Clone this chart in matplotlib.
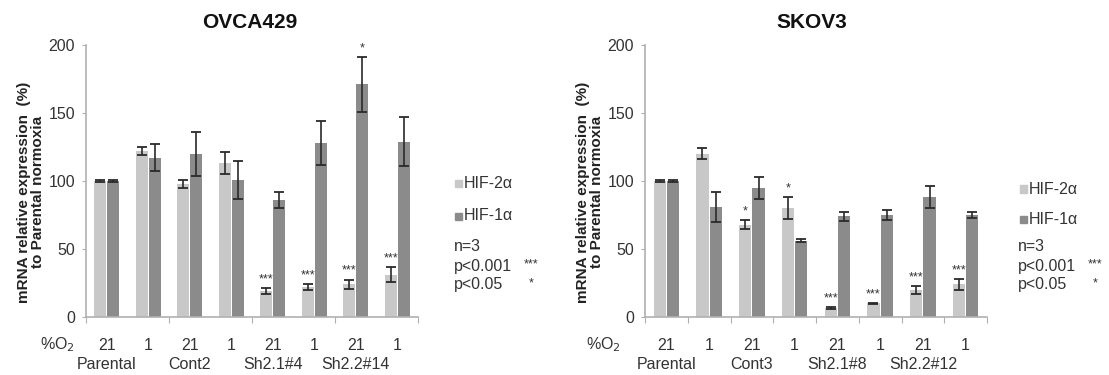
import matplotlib
matplotlib.use("Agg")
import matplotlib.pyplot as plt
import numpy as np

plt.rcParams['font.family'] = ['Liberation Sans', 'DejaVu Sans']

# ---- data ----
o2_labels = ["21", "1", "21", "1", "21", "1", "21", "1"]
series_names = ["HIF-2α", "HIF-1α"]

ovca_groups = ["Parental", "Cont2", "Sh2.1#4", "Sh2.2#14"]
ovca_hif2 = [100, 122, 98, 113, 19, 22, 24, 31]
ovca_hif2_err = [0.5, 3, 3, 8, 2, 2, 3.5, 5.5]
ovca_hif1 = [100, 117, 120, 101, 86, 128, 171, 129]
ovca_hif1_err = [0.5, 10, 16, 14, 6, 16, 20, 18]
ovca_hif2_sig = ["", "", "", "", "***", "***", "***", "***"]
ovca_hif1_sig = ["", "", "", "", "", "", "*", ""]

skov_groups = ["Parental", "Cont3", "Sh2.1#8", "Sh2.2#12"]
skov_hif2 = [100, 120, 68, 80, 6.5, 10, 20, 24]
skov_hif2_err = [0.5, 4, 3, 8, 0.5, 0.5, 3, 4]
skov_hif1 = [100, 81, 95, 56, 74, 75, 88, 75]
skov_hif1_err = [0.5, 11, 8, 1, 3.5, 4, 8, 2]
skov_hif2_sig = ["", "", "*", "*", "***", "***", "***", "***"]
skov_hif1_sig = ["", "", "", "", "", "", "", ""]

# ---- style ----
W, H = 1109, 375
LIGHT = "#c8c8c8"
DARK = "#8b8b8b"
ERR = "#2a2a2a"
AXC = "#b0b0b0"
TXT = "#333333"
FS = 11.5

fig = plt.figure(figsize=(W / 100, H / 100), dpi=100)


def fx(px):
    return px / W


def fy(py):
    return 1 - py / H


def panel(left_px, right_px, title, title_x, groups, h2, e2, h1, e1, s2, s1,
          every_tick, ylab_x, o2_x, leg_x, leg_y, note_x, star_x):
    top_px, bot_px = 45, 317
    ax = fig.add_axes([fx(left_px), fy(bot_px), fx(right_px - left_px),
                       (bot_px - top_px) / H])
    n = len(h2)
    x = np.arange(n) + 0.5
    bw = 0.29
    off = 0.155
    ekw = dict(ecolor=ERR, elinewidth=1.2, capsize=3.4, capthick=1.3)
    ax.bar(x - off, h2, bw, color=LIGHT, yerr=e2, error_kw=ekw, label=series_names[0], zorder=2)
    ax.bar(x + off, h1, bw, color=DARK, yerr=e1, error_kw=ekw, label=series_names[1], zorder=2)
    for i in range(n):
        if s2[i]:
            ax.text(x[i] - off, h2[i] + e2[i] + 2, s2[i], ha="center", va="bottom",
                    fontsize=9, color=TXT)
        if s1[i]:
            ax.text(x[i] + off, h1[i] + e1[i] + 2, s1[i], ha="center", va="bottom",
                    fontsize=9, color=TXT)
    ax.set_xlim(0, n)
    ax.set_ylim(0, 200)
    ax.set_yticks([0, 50, 100, 150, 200])
    ax.tick_params(axis="y", labelsize=FS, colors=AXC, labelcolor=TXT, length=3, pad=5)
    ax.set_xticks(np.arange(0, n + 1, every_tick))
    ax.set_xticklabels([])
    ax.tick_params(axis="x", length=4, colors=AXC, direction="out")
    for s in ["top", "right"]:
        ax.spines[s].set_visible(False)
    for s in ["left", "bottom"]:
        ax.spines[s].set_color(AXC)
        ax.spines[s].set_linewidth(1.2)
    # O2 labels and group labels under the axis
    trans = ax.get_xaxis_transform()
    for i in range(n):
        ax.text(x[i], -0.105, o2_labels[i], transform=trans, ha="center", va="center",
                fontsize=FS, color=TXT)
    for j, g in enumerate(groups):
        ax.text(x[2 * j], -0.175, g, transform=trans, ha="center", va="center",
                fontsize=FS, color=TXT)
    fig.text(fx(o2_x), fy(345), "%O$_2$", ha="center", va="center",
             fontsize=FS, color=TXT)
    fig.text(fx(title_x), fy(22), title, ha="center", va="center",
             fontsize=15, fontweight="bold", color="#111111")
    fig.text(fx(ylab_x), fy(192), "mRNA relative expression  (%)\nto Parental normoxia",
             rotation=90, ha="center", va="center", fontsize=11, fontweight="bold",
             color="#222222", linespacing=1.0)
    # legend
    for k, (name, col) in enumerate(zip(series_names, [LIGHT, DARK])):
        yy = leg_y[k]
        fig.patches.append(plt.Rectangle((fx(leg_x), fy(yy + 3.5)), fx(7), 7 / H,
                                         transform=fig.transFigure, color=col))
        fig.text(fx(leg_x + 9), fy(yy), name, ha="left", va="center", fontsize=FS, color=TXT)
    fig.text(fx(note_x), fy(247), "n=3", ha="left", va="center", fontsize=FS, color=TXT)
    fig.text(fx(note_x), fy(266), "p<0.001", ha="left", va="center", fontsize=FS, color=TXT)
    fig.text(fx(note_x), fy(285), "p<0.05", ha="left", va="center", fontsize=FS, color=TXT)
    fig.text(fx(star_x), fy(264), "***", ha="center", va="center", fontsize=9, color=TXT)
    fig.text(fx(star_x), fy(283), "*", ha="center", va="center", fontsize=9, color=TXT)
    return ax


panel(86, 418, "OVCA429", 250, ovca_groups, ovca_hif2, ovca_hif2_err, ovca_hif1,
      ovca_hif1_err, ovca_hif2_sig, ovca_hif1_sig, 2, 31, 57, 455, [183, 216], 454, 531)
panel(645, 987, "SKOV3", 812, skov_groups, skov_hif2, skov_hif2_err, skov_hif1,
      skov_hif1_err, skov_hif2_sig, skov_hif1_sig, 1, 590, 603, 1020, [189, 219], 1018, 1095)

fig.savefig("out.png", dpi=100)
